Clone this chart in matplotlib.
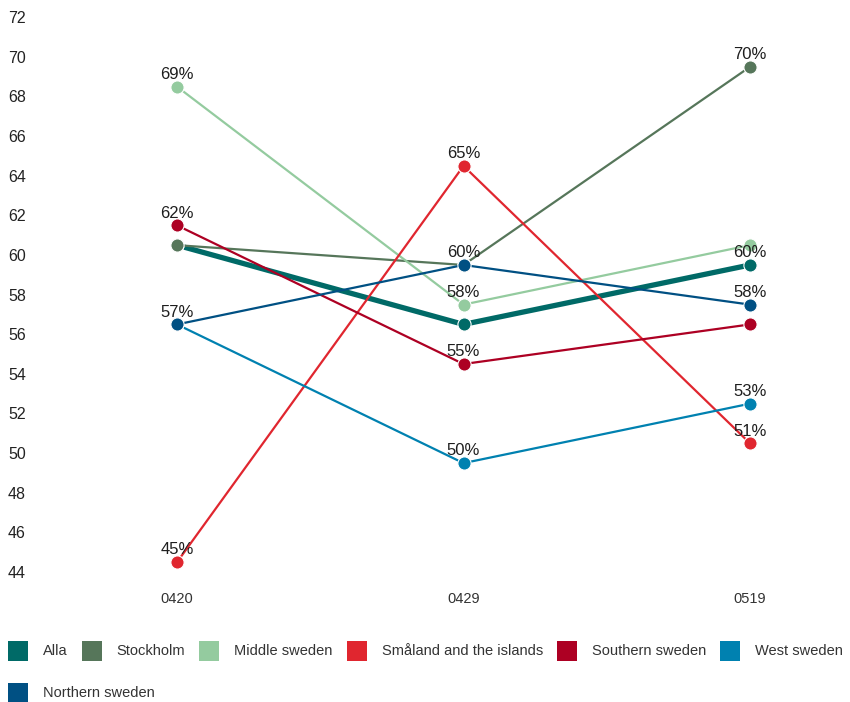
import matplotlib
matplotlib.use('Agg')
import matplotlib.pyplot as plt
from matplotlib.patches import Rectangle
from matplotlib.transforms import ScaledTranslation

plt.rcParams['font.family'] = ['Liberation Sans', 'DejaVu Sans']

# data
periods = ['0420', '0429', '0519']
series_names = ['Alla', 'Stockholm', 'Middle sweden', 'Småland and the islands',
                'Southern sweden', 'West sweden', 'Northern sweden']
alla = [61, 57, 60]
stockholm = [61, 60, 70]
middle = [69, 58, 61]
smaland = [45, 65, 51]
southern = [62, 55, 57]
west = [57, 50, 53]
northern = [57, 60, 58]
values = [alla, stockholm, middle, smaland, southern, west, northern]
# which points carry a visible data label (the rest are hidden by overlap)
show_label = [
    [False, False, True],
    [False, False, True],
    [True, True, False],
    [True, True, True],
    [True, True, False],
    [False, True, True],
    [True, True, True],
]
colors = ['#006a67', '#56765a', '#94cb9f', '#e0262f', '#ad0023', '#0081b0', '#005083']
y_ticks = list(range(44, 73, 2))

W, H = 850, 702
fig = plt.figure(figsize=(W / 100, H / 100), dpi=100)
left_px, right_px = 40, 840
top_px, bottom_px = 27.2, 582
ax = fig.add_axes([left_px / W, 1 - bottom_px / H,
                   (right_px - left_px) / W, (bottom_px - top_px) / H])

for i, (name, vals) in enumerate(zip(series_names, values)):
    lw = 3.8 if name == 'Alla' else 1.6
    ax.plot(range(len(periods)), vals, color=colors[i], linewidth=lw,
            marker='o', markersize=9.5, markeredgecolor='white',
            markeredgewidth=0.8, clip_on=False, zorder=2 + i)
    for j, v in enumerate(vals):
        if show_label[i][j]:
            ax.annotate(f'{v}%', (j, v), xytext=(0, 8.8), textcoords='offset points',
                        ha='center', va='center', fontsize=12, color='#1e1e1e',
                        zorder=20)

x0 = (left_px - 177) / 286.5
x1 = (right_px - 177) / 286.5
ax.set_xlim(x0, x1)
ax.set_ylim(44, 72)
ax.set_xticks(range(len(periods)))
ax.set_xticklabels(periods)
ax.set_yticks(y_ticks)
ax.set_yticklabels([str(t) for t in y_ticks])
ax.tick_params(axis='x', length=0, pad=7, labelsize=10.5, colors='#333333')
ax.tick_params(axis='y', length=0, pad=23, labelsize=11.5, colors='#222222')
shift = ScaledTranslation(0, 10 / 100, fig.dpi_scale_trans)
for lab in ax.get_yticklabels():
    lab.set_horizontalalignment('left')
    lab.set_transform(lab.get_transform() + shift)
for s in ax.spines.values():
    s.set_visible(False)

# legend drawn by hand, wrapping like the original
fig.canvas.draw()
renderer = fig.canvas.get_renderer()
x = 8
row_y = [651, 693]
row = 0
for name, c in zip(series_names, colors):
    t = fig.text(0, 0, name, fontsize=10.5, color='#333333', va='center')
    tw = t.get_window_extent(renderer).width
    if x + 20 + 16 + tw > W:
        row += 1
        x = 8
    yc = H - row_y[row]
    fig.patches.append(Rectangle((x / W, (yc - 10) / H), 20 / W, 20 / H,
                                 transform=fig.transFigure, facecolor=c,
                                 edgecolor='none'))
    t.set_position(((x + 35) / W, yc / H))
    x += 35 + tw + 14

fig.savefig('out.png', dpi=100)
